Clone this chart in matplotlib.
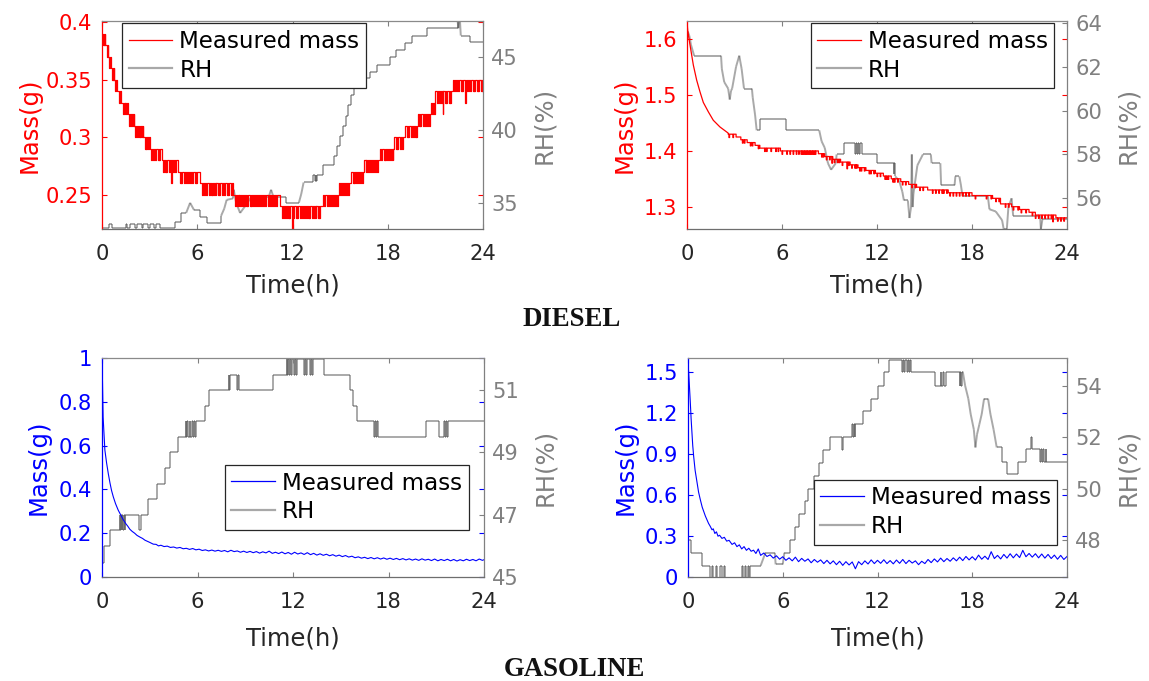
import numpy as np
import matplotlib
matplotlib.use("Agg")
import matplotlib.pyplot as plt
from matplotlib.collections import LineCollection
from matplotlib.lines import Line2D

# ======================= DATA =======================
time_ticks = [0, 6, 12, 18, 24]
time_labels = ["0", "6", "12", "18", "24"]

# ---- Panel 1 : DIESEL (left) ----
m1_level_t = [0, 0.25, 0.4, 0.55, 0.75, 0.95, 1.2, 1.65, 2.0, 2.6, 3.0, 3.75, 4.8, 6.2,
              8.25, 11.2, 13.9, 14.9, 15.7, 16.5, 17.5, 18.4, 19.1, 19.9, 20.7, 21.0, 22.1]
m1_level_v = [0.39, 0.38, 0.37, 0.36, 0.35, 0.34, 0.33, 0.32, 0.31, 0.30, 0.29, 0.28, 0.27, 0.26,
              0.25, 0.24, 0.25, 0.26, 0.27, 0.28, 0.29, 0.30, 0.31, 0.32, 0.33, 0.34, 0.35]
m1_dip_t = [0.05, 0.12, 0.2, 0.33, 0.47, 0.62, 0.68, 0.85,
            1.05, 1.3, 1.42, 1.5, 1.72, 1.85, 1.93,
            2.1, 2.2, 2.35, 2.42, 2.5, 2.7, 2.78, 2.9,
            3.1, 3.2, 3.35, 3.5, 3.6, 3.82, 3.95,
            4.05, 4.2, 4.5, 4.6, 4.9,
            5.0, 5.15, 5.3, 5.42, 5.55, 5.7, 5.85, 5.95,
            6.3, 6.45, 6.55, 6.75, 6.85, 6.95,
            7.05, 7.15, 7.3, 7.4, 7.55, 7.7, 7.85, 7.95,
            8.1, 8.35, 8.5, 8.6, 8.7, 8.85, 8.95,
            9.05, 9.15, 9.3, 9.4, 9.5, 9.65, 9.75, 9.9,
            10.0, 10.15, 10.25, 10.45, 10.6, 10.7, 10.85, 10.95,
            11.35, 11.45, 11.6, 11.7, 11.8,
            12.05, 12.2, 12.3, 12.45, 12.6, 12.7, 12.85, 12.95,
            13.05, 13.2, 13.35, 13.45, 13.6, 13.7,
            14.0, 14.15, 14.3, 14.45, 14.55, 14.7, 14.8,
            15.0, 15.1, 15.25, 15.4, 15.5, 15.8, 15.9,
            16.0, 16.1, 16.25, 16.4, 16.6, 16.7, 16.85, 16.95,
            17.1, 17.2, 17.35, 17.6, 17.75, 17.85, 17.95,
            18.1, 18.2, 18.3, 18.5, 18.6, 18.75, 18.9,
            19.2, 19.3, 19.45, 19.6, 19.7, 19.8, 19.95,
            20.05, 20.2, 20.35, 20.45, 20.6, 20.8, 20.9,
            21.1, 21.2, 21.35, 21.6, 21.7, 21.85, 21.95,
            22.2, 22.3, 22.45, 22.6, 22.7, 22.95,
            23.05, 23.2, 23.35, 23.45, 23.6, 23.7, 23.85, 23.95]
m1_deep_t = [4.35, 11.95, 21.45, 22.85]
rh1_pts = [(0, 33.25), (0.45, 33.25), (0.45, 33.55), (0.6, 33.55), (0.6, 33.25),
           (1.5, 33.25), (1.5, 33.55), (1.6, 33.55), (1.6, 33.25), (1.75, 33.25), (1.75, 33.55),
           (2.1, 33.55), (2.1, 33.25), (2.2, 33.25), (2.2, 33.55), (2.5, 33.55), (2.5, 33.25),
           (2.6, 33.25), (2.6, 33.55), (2.9, 33.55), (2.9, 33.25), (3.0, 33.25), (3.0, 33.55),
           (3.3, 33.55), (3.3, 33.25), (3.4, 33.25), (3.4, 33.55), (3.65, 33.55), (3.65, 33.25),
           (4.6, 33.25), (4.6, 33.7), (5.0, 33.7), (5.0, 34.3), (5.3, 34.3), (5.55, 35.0),
           (5.8, 34.5), (6.2, 34.5), (6.2, 34.0), (6.6, 34.0), (6.6, 33.6), (7.5, 33.6),
           (7.5, 34.1), (7.7, 34.6), (7.85, 35.2), (8.25, 35.3), (8.3, 35.9), (8.45, 35.0),
           (8.7, 34.3), (8.9, 34.6), (9.1, 34.9), (9.4, 35.4), (10.5, 35.4), (10.65, 35.9),
           (10.8, 35.4), (11.6, 35.4), (11.6, 35.0), (12.4, 35.0), (12.55, 35.6), (12.7, 36.4),
           (13.3, 36.4), (13.3, 36.9), (13.4, 36.9), (13.4, 36.5), (13.45, 36.5), (13.45, 36.9),
           (13.5, 36.9), (13.5, 36.5), (13.55, 36.5), (13.55, 36.9), (13.95, 36.9), (13.95, 37.6),
           (14.6, 37.6), (14.6, 38.2), (14.8, 38.2), (14.8, 38.9), (15.0, 38.9), (15.0, 39.6),
           (15.2, 39.6), (15.2, 40.3), (15.35, 40.3), (15.35, 41.0), (15.5, 41.0), (15.5, 41.7),
           (15.7, 41.7), (15.7, 42.4), (15.85, 42.4), (15.85, 43.0), (16.05, 43.0), (16.05, 43.6),
           (16.9, 43.6), (16.9, 44.0), (17.3, 44.0), (17.3, 44.5), (18.15, 44.5), (18.15, 45.0),
           (18.55, 45.0), (18.55, 45.5), (19.1, 45.5), (19.1, 46.0), (19.5, 46.0), (19.5, 46.5),
           (20.45, 46.5), (20.45, 47.0), (22.4, 47.0), (22.4, 47.5), (22.45, 47.0), (22.5, 47.5),
           (22.55, 47.5), (22.6, 46.5), (23.15, 46.5), (23.15, 46.05), (24, 46.05)]

# ---- Panel 2 : DIESEL (right) ----
m2_early_pts = [(0, 1.632), (0.05, 1.615), (0.19, 1.59), (0.4, 1.554), (0.61, 1.527),
                (0.82, 1.506), (1.03, 1.487), (1.35, 1.47), (1.66, 1.455), (2.08, 1.443), (2.6, 1.432)]
m2_level_t = [2.6, 3.1, 3.4, 3.8, 4.3, 4.6, 5.9, 8.3, 8.7, 9.2, 9.7, 10.3, 10.8, 11.3, 11.9,
              12.4, 12.9, 13.5, 14.0, 14.5, 15.2, 16.5, 18.0, 19.3, 19.8, 20.5, 21.0, 21.6, 22.0, 23.3]
m2_level_v = [1.430, 1.425, 1.420, 1.415, 1.410, 1.405, 1.400, 1.395, 1.390, 1.385, 1.380,
              1.375, 1.370, 1.365, 1.360, 1.355, 1.350, 1.345, 1.340, 1.335, 1.330, 1.325,
              1.320, 1.315, 1.305, 1.300, 1.295, 1.290, 1.285, 1.280]
m2_dip_t = [2.65, 2.9, 3.5, 3.62, 4.0, 4.12, 4.5, 4.9, 5.02, 5.3, 5.6, 5.75, 6.0, 6.3, 6.5,
            6.7, 6.9, 7.05, 7.2, 7.3, 7.4, 7.5, 7.6, 7.7, 7.8, 7.9, 8.0, 8.1, 8.5, 8.6, 8.8,
            9.0, 9.3, 9.5, 9.6, 9.8, 10.2, 10.4, 10.6, 10.7, 10.9, 11.0, 11.2, 11.5, 11.6,
            11.8, 12.0, 12.2, 12.5, 12.6, 12.7, 13.0, 13.1, 13.3, 13.6, 13.8, 14.2, 14.4,
            14.7, 14.9, 15.5, 15.7, 15.9, 16.1, 16.2, 16.4, 16.6, 16.8, 17.0, 17.2, 17.4,
            17.6, 17.8, 18.2, 18.9, 19.2, 19.5, 19.7, 20.1, 20.3, 20.6, 20.9, 21.1, 21.4,
            21.8, 22.0, 22.2, 22.4, 22.6, 22.8, 23.0, 23.4, 23.6, 23.8]
m2_deep_t = [9.15, 10.1, 23.1]
rh2_pts = [(0, 63.3), (0.05, 63.6), (0.15, 63.4), (0.25, 63.0), (0.45, 62.5), (2.15, 62.5),
           (2.2, 61.9), (2.35, 61.3), (2.6, 61.0), (2.7, 60.5), (2.78, 60.9), (2.85, 61.0),
           (3.1, 62.0), (3.3, 62.5), (3.45, 61.9), (3.6, 61.0), (4.1, 61.0), (4.15, 60.6),
           (4.3, 59.8), (4.4, 59.1), (4.6, 59.1), (4.6, 59.6), (6.25, 59.6), (6.25, 59.1),
           (8.35, 59.1), (8.5, 58.6), (8.7, 58.3), (8.9, 57.6), (9.1, 57.3), (9.4, 57.6),
           (9.45, 58.0), (9.9, 58.0), (9.9, 58.5), (10.6, 58.5), (10.6, 58.0), (10.65, 58.0),
           (10.65, 58.5), (10.72, 58.5), (10.72, 58.0), (10.8, 58.0), (10.8, 58.5), (10.88, 58.5),
           (10.88, 58.0), (10.95, 58.0), (10.95, 58.5), (11.05, 58.5), (11.05, 58.0), (12.0, 58.0),
           (12.0, 57.6), (13.05, 57.6), (13.05, 57.1), (13.1, 57.1), (13.1, 57.6), (13.15, 57.6),
           (13.15, 57.0), (13.4, 56.8), (13.6, 56.3), (13.7, 55.9), (13.95, 55.9), (14.05, 55.1),
           (14.15, 55.6), (14.2, 58.0), (14.25, 55.6), (14.3, 56.2), (14.55, 57.5), (14.9, 58.0),
           (15.4, 58.0), (15.45, 57.6), (16.0, 57.6), (16.05, 56.6), (16.9, 56.6), (16.95, 57.0),
           (17.2, 57.0), (17.3, 56.6), (17.4, 56.1), (19.0, 56.1), (19.1, 55.5), (19.5, 55.4),
           (19.9, 55.0), (20.0, 54.6), (20.2, 54.6), (20.3, 55.6), (20.5, 56.0), (20.6, 55.2),
           (22.3, 55.2), (22.35, 54.6), (22.45, 55.05), (24, 55.05)]

# ---- Panel 3 : GASOLINE (left) ----
m3_pts = [(0.00, 0.960), (0.02, 0.930), (0.07, 0.730), (0.18, 0.580), (0.29, 0.520), (0.40, 0.470),
          (0.50, 0.430), (0.60, 0.395), (0.71, 0.366), (0.85, 0.335), (1.02, 0.305), (1.15, 0.287),
          (1.33, 0.262), (1.50, 0.243), (1.62, 0.232), (1.75, 0.218), (1.90, 0.208), (2.05, 0.200),
          (2.20, 0.190), (2.39, 0.182), (2.55, 0.176), (2.70, 0.168), (2.85, 0.163), (3.00, 0.158),
          (3.22, 0.150), (3.40, 0.149), (3.55, 0.142), (3.70, 0.145), (3.90, 0.139), (4.10, 0.141),
          (4.30, 0.135), (4.50, 0.137), (4.70, 0.132), (4.90, 0.135), (5.10, 0.129), (5.30, 0.131),
          (5.50, 0.126), (5.70, 0.130), (5.90, 0.124), (6.10, 0.127), (6.30, 0.121), (6.50, 0.124),
          (6.70, 0.119), (6.90, 0.123), (7.10, 0.118), (7.30, 0.122), (7.50, 0.117), (7.70, 0.121),
          (7.90, 0.115), (8.10, 0.122), (8.30, 0.116), (8.50, 0.119), (8.70, 0.113), (8.90, 0.118),
          (9.10, 0.112), (9.30, 0.117), (9.50, 0.111), (9.70, 0.116), (9.90, 0.109), (10.10, 0.115),
          (10.30, 0.110), (10.50, 0.118), (10.70, 0.108), (10.90, 0.113), (11.10, 0.107), (11.30, 0.114),
          (11.50, 0.106), (11.70, 0.112), (11.90, 0.104), (12.10, 0.113), (12.30, 0.105), (12.50, 0.110),
          (12.70, 0.103), (12.90, 0.111), (13.10, 0.102), (13.30, 0.108), (13.50, 0.100), (13.70, 0.106),
          (13.90, 0.099), (14.10, 0.104), (14.30, 0.097), (14.50, 0.102), (14.70, 0.095), (14.90, 0.100),
          (15.10, 0.093), (15.30, 0.098), (15.50, 0.091), (15.70, 0.095), (15.90, 0.088), (16.10, 0.092),
          (16.30, 0.086), (16.50, 0.090), (16.70, 0.084), (16.90, 0.089), (17.10, 0.083), (17.30, 0.088),
          (17.50, 0.082), (17.70, 0.087), (17.90, 0.081), (18.10, 0.086), (18.30, 0.080), (18.50, 0.085),
          (18.70, 0.079), (18.90, 0.084), (19.10, 0.078), (19.30, 0.083), (19.50, 0.077), (19.70, 0.082),
          (19.90, 0.076), (20.10, 0.083), (20.30, 0.077), (20.50, 0.081), (20.70, 0.075), (20.90, 0.082),
          (21.10, 0.074), (21.30, 0.080), (21.50, 0.075), (21.70, 0.081), (21.90, 0.074), (22.10, 0.080),
          (22.30, 0.073), (22.50, 0.079), (22.70, 0.074), (22.90, 0.081), (23.10, 0.075), (23.30, 0.080),
          (23.50, 0.074), (23.70, 0.082), (23.90, 0.076), (24.00, 0.079)]
rh3_pts = [(0, 45.45), (0.1, 45.45), (0.1, 46.0), (0.5, 46.0), (0.5, 46.5), (1.1, 46.5),
           (1.1, 47.0), (1.15, 47.0), (1.15, 46.5), (1.2, 46.5), (1.2, 47.0), (1.24, 47.0),
           (1.24, 46.5), (1.28, 46.5), (1.28, 47.0), (1.33, 47.0), (1.33, 46.5), (1.37, 46.5),
           (1.37, 47.0), (1.42, 47.0), (1.42, 46.5), (1.46, 46.5), (1.46, 47.0),
           (2.35, 47.0), (2.35, 46.5), (2.42, 46.5), (2.42, 47.0), (2.9, 47.0), (2.9, 47.5),
           (3.45, 47.5), (3.45, 48.0), (3.95, 48.0), (3.95, 48.5), (4.3, 48.5), (4.3, 49.0),
           (4.8, 49.0), (4.8, 49.5), (5.25, 49.5),
           (5.25, 50.0), (5.3, 50.0), (5.3, 49.5), (5.36, 49.5), (5.36, 50.0), (5.42, 50.0),
           (5.42, 49.5), (5.5, 49.5), (5.5, 50.0), (5.56, 50.0), (5.56, 49.5), (5.63, 49.5),
           (5.63, 50.0), (5.7, 50.0), (5.7, 49.5), (5.76, 49.5), (5.76, 50.0), (5.84, 50.0),
           (5.84, 49.5), (5.9, 49.5), (5.9, 50.0),
           (6.45, 50.0), (6.45, 50.5), (6.7, 50.5), (6.7, 51.0), (7.95, 51.0), (7.95, 51.5),
           (8.0, 51.5), (8.0, 51.0), (8.05, 51.0), (8.05, 51.5), (8.5, 51.5), (8.5, 51.0),
           (8.55, 51.0), (8.55, 51.5), (8.62, 51.5), (8.62, 51.0),
           (10.75, 51.0), (10.75, 51.5), (11.6, 51.5),
           (11.6, 52.0), (11.65, 52.0), (11.65, 51.5), (11.7, 51.5), (11.7, 52.0), (11.76, 52.0),
           (11.76, 51.5), (11.82, 51.5), (11.82, 52.0), (11.9, 52.0), (11.9, 51.5), (11.96, 51.5),
           (11.96, 52.0), (12.04, 52.0), (12.04, 51.5), (12.1, 51.5), (12.1, 52.0), (12.18, 52.0),
           (12.18, 51.5), (12.24, 51.5), (12.24, 52.0),
           (12.7, 52.0), (12.7, 51.5), (12.76, 51.5), (12.76, 52.0), (12.84, 52.0), (12.84, 51.5),
           (12.9, 51.5), (12.9, 52.0), (13.05, 52.0), (13.05, 51.5), (13.12, 51.5), (13.12, 52.0),
           (13.2, 52.0), (13.2, 51.5), (13.26, 51.5), (13.26, 52.0),
           (13.95, 52.0), (13.95, 51.5), (15.6, 51.5), (15.6, 51.0), (15.75, 51.0), (15.75, 50.5),
           (16.0, 50.5), (16.0, 50.0), (17.1, 50.0),
           (17.1, 49.5), (17.16, 49.5), (17.16, 50.0), (17.22, 50.0), (17.22, 49.5), (17.3, 49.5),
           (17.3, 50.0), (17.36, 50.0), (17.36, 49.5),
           (20.35, 49.5), (20.35, 50.0), (21.2, 50.0), (21.2, 49.5), (21.5, 49.5), (21.5, 50.0),
           (21.56, 50.0), (21.56, 49.5), (21.62, 49.5), (21.62, 50.0), (21.7, 50.0), (21.7, 49.5),
           (21.76, 49.5), (21.76, 50.0), (24, 50.0)]

# ---- Panel 4 : GASOLINE (right) ----
m4_pts = [(0.00, 1.550), (0.04, 1.500), (0.08, 1.420), (0.14, 1.290), (0.20, 1.150), (0.25, 1.050),
          (0.30, 0.960), (0.36, 0.880), (0.45, 0.780), (0.57, 0.690), (0.67, 0.620), (0.78, 0.565),
          (0.90, 0.510), (1.00, 0.478), (1.10, 0.445), (1.20, 0.418), (1.30, 0.392), (1.40, 0.372),
          (1.52, 0.345), (1.60, 0.352), (1.70, 0.318), (1.80, 0.330), (1.90, 0.298), (2.00, 0.305),
          (2.15, 0.282), (2.30, 0.290), (2.45, 0.262), (2.60, 0.268), (2.79, 0.238), (2.95, 0.250),
          (3.10, 0.222), (3.25, 0.235), (3.40, 0.205), (3.55, 0.222), (3.70, 0.195), (3.85, 0.210),
          (4.00, 0.188), (4.15, 0.196), (4.30, 0.172), (4.45, 0.205), (4.60, 0.158), (4.80, 0.175),
          (5.00, 0.150), (5.20, 0.162), (5.40, 0.138), (5.60, 0.155), (5.80, 0.130), (6.00, 0.148),
          (6.20, 0.122), (6.40, 0.140), (6.60, 0.118), (6.80, 0.145), (7.00, 0.112), (7.20, 0.136),
          (7.40, 0.115), (7.60, 0.132), (7.80, 0.104), (8.00, 0.128), (8.20, 0.108), (8.40, 0.125),
          (8.60, 0.098), (8.80, 0.122), (9.00, 0.096), (9.20, 0.118), (9.40, 0.090), (9.60, 0.115),
          (9.80, 0.085), (10.00, 0.112), (10.20, 0.088), (10.40, 0.110), (10.60, 0.060), (10.80, 0.112),
          (11.00, 0.090), (11.20, 0.118), (11.40, 0.095), (11.60, 0.125), (11.80, 0.098), (12.00, 0.122),
          (12.20, 0.100), (12.40, 0.126), (12.60, 0.098), (12.80, 0.120), (13.00, 0.096), (13.20, 0.124),
          (13.40, 0.100), (13.60, 0.128), (13.80, 0.098), (14.00, 0.122), (14.20, 0.102), (14.40, 0.118),
          (14.60, 0.090), (14.80, 0.115), (15.00, 0.098), (15.20, 0.128), (15.40, 0.105), (15.60, 0.132),
          (15.80, 0.110), (16.00, 0.138), (16.20, 0.112), (16.40, 0.135), (16.60, 0.115), (16.80, 0.140),
          (17.00, 0.118), (17.20, 0.145), (17.40, 0.120), (17.60, 0.150), (17.80, 0.125), (18.00, 0.148),
          (18.20, 0.124), (18.40, 0.160), (18.60, 0.130), (18.80, 0.152), (19.00, 0.128), (19.20, 0.185),
          (19.40, 0.135), (19.60, 0.158), (19.80, 0.132), (20.00, 0.165), (20.20, 0.138), (20.40, 0.170),
          (20.60, 0.140), (20.80, 0.168), (21.00, 0.142), (21.20, 0.195), (21.40, 0.148), (21.60, 0.172),
          (21.80, 0.145), (22.00, 0.170), (22.20, 0.140), (22.40, 0.168), (22.60, 0.138), (22.80, 0.165),
          (23.00, 0.135), (23.20, 0.160), (23.40, 0.130), (23.60, 0.158), (23.80, 0.128), (24.00, 0.150)]
rh4_pts = [(0, 48.0), (0.2, 48.0), (0.2, 47.5), (0.88, 47.5), (0.88, 47.0), (1.41, 47.0),
           (1.41, 46.5), (1.5, 46.5), (1.5, 47.0), (1.6, 47.0), (1.6, 46.5), (1.75, 46.5),
           (1.75, 47.0), (1.85, 47.0), (1.85, 46.5), (2.05, 46.5), (2.05, 47.0), (2.15, 47.0),
           (2.15, 46.5), (2.25, 46.5), (2.25, 47.0), (2.35, 47.0), (2.35, 46.5),
           (3.42, 46.5), (3.42, 47.0), (3.5, 47.0), (3.5, 46.5), (3.6, 46.5), (3.6, 47.0),
           (3.68, 47.0), (3.68, 46.5), (3.78, 46.5), (3.78, 47.0), (3.86, 47.0), (3.86, 46.5),
           (3.95, 46.5), (3.95, 47.0),
           (4.6, 47.0), (4.9, 47.5), (5.5, 47.5), (5.55, 47.05), (6.0, 47.05), (6.1, 47.5),
           (6.45, 47.5), (6.45, 48.0), (6.8, 48.0), (6.8, 48.5), (7.05, 48.5), (7.05, 49.0),
           (7.4, 49.0), (7.4, 49.5), (7.6, 49.5), (7.6, 50.0), (7.97, 50.0), (7.97, 50.5),
           (8.3, 50.5), (8.3, 51.0), (8.55, 51.0), (8.55, 51.5), (9.0, 51.5), (9.0, 52.0),
           (9.75, 52.0), (9.75, 51.5), (9.8, 51.5), (9.8, 52.0), (10.4, 52.0), (10.4, 52.5),
           (10.45, 52.5), (10.45, 52.0), (10.5, 52.0), (10.5, 52.5), (10.55, 52.5), (10.55, 52.0),
           (10.6, 52.0), (10.6, 52.5), (11.1, 52.5), (11.1, 53.0), (11.6, 53.0), (11.6, 53.5),
           (12.05, 53.5), (12.05, 54.0), (12.4, 54.0), (12.4, 54.55), (12.75, 54.55), (12.75, 55.0),
           (13.57, 55.0),
           (13.57, 54.55), (13.63, 54.55), (13.63, 55.0), (13.7, 55.0), (13.7, 54.55), (13.77, 54.55),
           (13.77, 55.0), (13.85, 55.0), (13.85, 54.55), (13.92, 54.55), (13.92, 55.0), (14.0, 55.0),
           (14.0, 54.55), (14.07, 54.55), (14.07, 55.0), (14.15, 55.0), (14.15, 54.55),
           (15.66, 54.55), (15.66, 54.0), (16.0, 54.0), (16.0, 54.55), (16.05, 54.55), (16.05, 54.0),
           (16.12, 54.0), (16.12, 54.55), (16.18, 54.55), (16.18, 54.0), (16.36, 54.0), (16.36, 54.55),
           (17.2, 54.55), (17.2, 54.0), (17.25, 54.0), (17.25, 54.55), (17.3, 54.55), (17.3, 54.0),
           (17.35, 54.0), (17.35, 54.55), (17.4, 54.55), (17.55, 54.0), (17.75, 53.5), (17.9, 52.9),
           (18.1, 52.3), (18.2, 51.6), (18.3, 52.1), (18.45, 52.5), (18.6, 52.9), (18.75, 53.5),
           (19.0, 53.5), (19.15, 52.9), (19.35, 52.3), (19.55, 51.6), (19.86, 51.6), (19.86, 51.05),
           (20.2, 51.05), (20.2, 50.55), (20.9, 50.55), (20.9, 51.05), (21.4, 51.05), (21.4, 51.55),
           (21.7, 51.55), (21.7, 52.0), (21.78, 52.0), (21.78, 51.55), (22.3, 51.55),
           (22.3, 51.05), (22.36, 51.05), (22.36, 51.55), (22.42, 51.55), (22.42, 51.05), (22.5, 51.05),
           (22.5, 51.55), (22.56, 51.55), (22.56, 51.05), (22.64, 51.05), (22.64, 51.55), (22.7, 51.55),
           (22.7, 51.05), (24, 51.05)]

# ======================= STYLE =======================
plt.rcParams['font.family'] = ['DejaVu Sans']
RED = '#ff0000'
BLUE = '#0000ff'
RH_TICK = '#808080'
RH_LINE = (0.33, 0.33, 0.33)
RH_ALPHA = 0.5
TICK_FS = 15.1
LABEL_FS = 17.5
LEG_FS = 16.6
W, H = 1149, 681

fig = plt.figure(figsize=(W / 100, H / 100), dpi=100)


def px_axes(x0, x1, ytop, ybot):
    return [x0 / W, 1 - ybot / H, (x1 - x0) / W, (ybot - ytop) / H]


def quantized_vertices(level_t, level_v, dip_t, deep_t, q, t_end, w):
    level_t = np.asarray(level_t, float)
    level_v = np.asarray(level_v, float)
    dips = [(d, q) for d in dip_t] + [(d, 2 * q) for d in deep_t]
    ev = set(level_t.tolist()) | {t_end}
    for d, _ in dips:
        ev |= {d, d + w}
    ev = np.array(sorted(e for e in ev if e <= t_end))

    def level_at(t):
        return level_v[np.searchsorted(level_t, t, side='right') - 1]

    vals = []
    for t in ev:
        v = level_at(t)
        for d, dep in dips:
            if d <= t < d + w - 1e-9:
                v = level_at(d) - dep
        vals.append(v)
    xs, ys = [], []
    for i in range(len(ev) - 1):
        xs += [ev[i], ev[i + 1]]
        ys += [vals[i], vals[i]]
    return np.array(xs), np.array(ys)


def draw_rh(ax2, pts):
    p = np.asarray(pts, float)
    segs = np.stack([p[:-1], p[1:]], axis=1)
    lc = LineCollection(segs, colors=[RH_LINE], linewidths=1.4, alpha=RH_ALPHA,
                        capstyle='butt', joinstyle='miter')
    ax2.add_collection(lc)


def setup(pos, mcol, m_lim, m_ticks, m_labels, rh_lim, rh_ticks, leg_xy,
          mlabelpad, tlabelpad):
    ax = fig.add_axes(pos)
    ax2 = ax.twinx()
    ax.set_zorder(ax2.get_zorder() + 1)
    ax.patch.set_visible(False)
    ax.set_xlim(0, 24)
    ax.set_ylim(*m_lim)
    ax2.set_ylim(*rh_lim)
    ax.set_xticks(time_ticks)
    ax.set_xticklabels(time_labels)
    ax.set_yticks(m_ticks)
    ax.set_yticklabels(m_labels)
    ax2.set_yticks(rh_ticks)
    ax2.set_yticklabels([str(v) for v in rh_ticks])
    ax.tick_params(axis='x', direction='in', top=True, bottom=True, length=3.5, width=0.8,
                   color='#808080', labelcolor='#262626', labelsize=TICK_FS, pad=11)
    ax.tick_params(axis='y', direction='in', left=True, right=True, length=3.5, width=0.8,
                   color=mcol, labelcolor=mcol, labelsize=TICK_FS, pad=7)
    ax2.tick_params(axis='y', direction='in', right=True, left=False, length=3.5, width=0.8,
                    color=RH_TICK, labelcolor=RH_TICK, labelsize=TICK_FS, pad=6)
    for s in ['top', 'bottom', 'left', 'right']:
        ax2.spines[s].set_visible(False)
    ax.spines['left'].set_color(mcol)
    ax.spines['right'].set_color('#808080')
    ax.spines['top'].set_color('#8a8a8a')
    ax.spines['bottom'].set_color('#6e6e6e')
    for s in ax.spines.values():
        s.set_linewidth(0.9)
    ax.set_xlabel('Time(h)', fontsize=LABEL_FS, color='#262626', labelpad=tlabelpad)
    ax.set_ylabel('Mass(g)', fontsize=LABEL_FS, color=mcol, labelpad=mlabelpad)
    ax2.set_ylabel('RH(%)', fontsize=LABEL_FS, color=RH_TICK, labelpad=10)
    handles = [Line2D([], [], color=mcol, lw=0.9),
               Line2D([], [], color='#a8a8a8', lw=1.6)]
    leg = ax.legend(handles, ['Measured mass', 'RH'], loc='upper left',
                    bbox_to_anchor=leg_xy, bbox_transform=ax.transAxes, borderaxespad=0,
                    frameon=True, fancybox=False, framealpha=1, edgecolor='#262626',
                    fontsize=LEG_FS, handlelength=1.9, handletextpad=0.3,
                    borderpad=0.28, labelspacing=0.25)
    leg.get_frame().set_linewidth(0.9)
    return ax, ax2


# ---------- Panel 1 ----------
ax, ax2 = setup(px_axes(102, 483, 21, 229), RED, (0.22, 0.401), [0.25, 0.3, 0.35, 0.4],
                ['0.25', '0.3', '0.35', '0.4'], (33.2, 47.5), [35, 40, 45], (0.053, 0.989), 3, 7)
x, y = quantized_vertices(m1_level_t, m1_level_v, m1_dip_t, m1_deep_t, 0.01, 24, 0.06)
draw_rh(ax2, rh1_pts)
ax.plot(x, y, color=RED, lw=0.9)

# ---------- Panel 2 ----------
ax, ax2 = setup(px_axes(687, 1067, 21, 229), RED, (1.26, 1.633), [1.3, 1.4, 1.5, 1.6],
                ['1.3', '1.4', '1.5', '1.6'], (54.6, 64.08), [56, 58, 60, 62, 64], (0.3255, 0.989), 5, 7)
xs, ys = quantized_vertices(m2_level_t, m2_level_v, m2_dip_t, m2_deep_t, 0.006, 24, 0.04)
e = np.asarray(m2_early_pts)
x = np.concatenate([e[:, 0], xs])
y = np.concatenate([e[:, 1], ys])
draw_rh(ax2, rh2_pts)
ax.plot(x, y, color=RED, lw=0.9)

# ---------- Panel 3 ----------
ax, ax2 = setup(px_axes(102, 484, 358, 577), BLUE, (0, 1), [0, 0.2, 0.4, 0.6, 0.8, 1],
                ['0', '0.2', '0.4', '0.6', '0.8', '1'], (45, 52.03), [45, 47, 49, 51], (0.322, 0.511), 6, 10)
p = np.asarray(m3_pts)
draw_rh(ax2, rh3_pts)
ax.plot(p[:, 0], p[:, 1], color=BLUE, lw=0.8)

# ---------- Panel 4 ----------
ax, ax2 = setup(px_axes(688, 1067, 358, 577), BLUE, (0, 1.6), [0, 0.3, 0.6, 0.9, 1.2, 1.5],
                ['0', '0.3', '0.6', '0.9', '1.2', '1.5'], (46.56, 55.08), [48, 50, 52, 54], (0.332, 0.443), 5, 10)
p = np.asarray(m4_pts)
draw_rh(ax2, rh4_pts)
ax.plot(p[:, 0], p[:, 1], color=BLUE, lw=0.8)

# ---------- Titles ----------
fig.text(572 / W, 1 - 320 / H, 'DIESEL', ha='center', va='center', fontsize=19.3,
         fontweight='bold', family=['Liberation Serif', 'DejaVu Serif'], color='#111111')
fig.text(574 / W, 1 - 669 / H, 'GASOLINE', ha='center', va='center', fontsize=19.3,
         fontweight='bold', family=['Liberation Serif', 'DejaVu Serif'], color='#111111')

fig.savefig('out.png', dpi=100)
